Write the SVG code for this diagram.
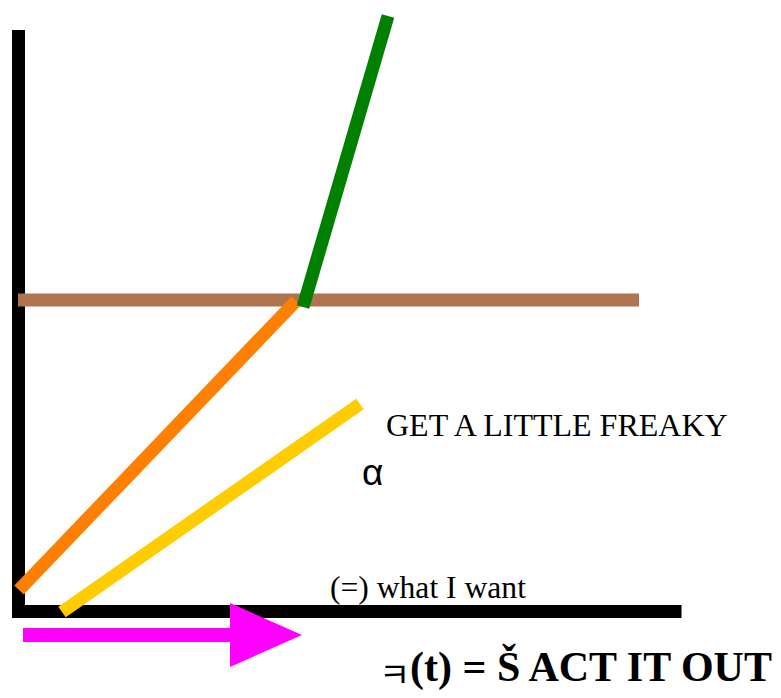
<svg xmlns="http://www.w3.org/2000/svg" width="781" height="698" viewBox="0 0 781 698">
<style>
.ln{fill:none;stroke-width:13;stroke-linecap:butt}
.serif{font-family:"Liberation Serif","Times New Roman",serif;fill:#000}
.sans{font-family:"Liberation Sans",Arial,sans-serif;fill:#000}
</style>
<rect width="781" height="698" fill="#fff"/>
<g id="connectors">
<polyline id="axes" class="ln" points="18.5,30 18.5,611.5 681.5,611.5" stroke="#000" stroke-linejoin="miter"/>
<line id="brown" class="ln" x1="18" y1="300" x2="639" y2="300" stroke="#b07350"/>
<line id="orange" class="ln" x1="19" y1="590" x2="296" y2="301" stroke="#ff8000"/>
<line id="green" class="ln" x1="303" y1="307" x2="388" y2="16" stroke="#008000"/>
<line id="yellow" class="ln" x1="62" y1="612" x2="360" y2="404" stroke="#ffcc00"/>
<g id="arrow" fill="#ff00ff">
<rect x="23" y="628" width="210" height="14"/>
<polygon points="230,603 302,635 230,667"/>
</g>
</g>
<g id="label-freaky"><text class="serif" x="386" y="436" font-size="32">GET A LITTLE FREAKY</text></g>
<g id="label-alpha"><text class="sans" x="362" y="485" font-size="37">α</text></g>
<g id="label-want"><text class="serif" x="330" y="598" font-size="31.6">(=) what I want</text></g>
<g id="label-act"><text x="379" y="681"><tspan font-family="'Noto Sans CJK KR',sans-serif" font-size="34" y="687">ㅋ</tspan><tspan class="serif" font-weight="bold" font-size="42" x="410" y="681">(t) = Š ACT IT OUT</tspan></text></g>
</svg>
